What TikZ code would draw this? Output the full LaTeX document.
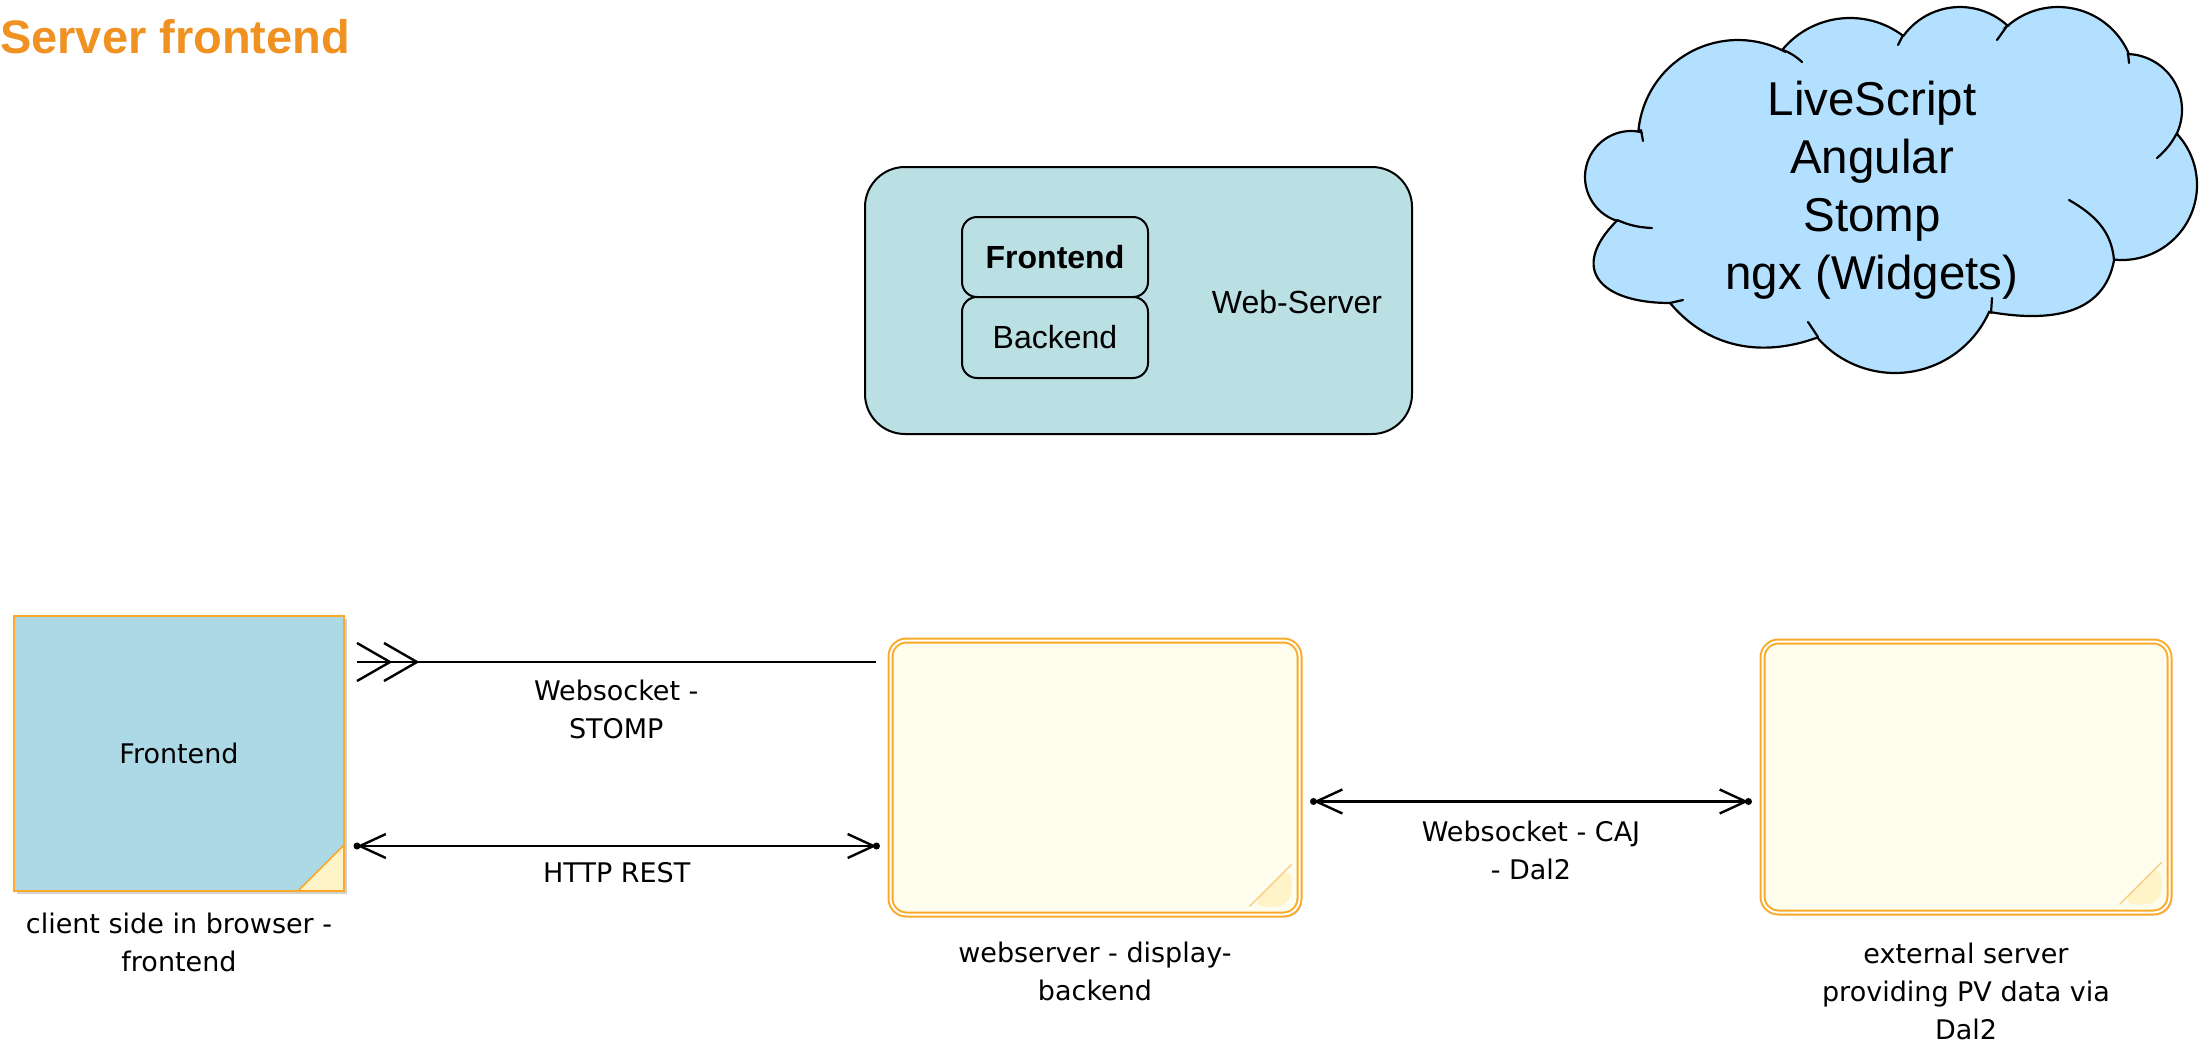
\documentclass[tikz,border=0pt]{standalone}
\usepackage{fontspec}
\setmainfont{Liberation Sans}
\newfontfamily\dvs{DejaVu Sans}
\usetikzlibrary{calc,arrows.meta,shadows}
\definecolor{wsfill}{RGB}{187,224,227}
\definecolor{cloudfill}{RGB}{179,224,255}
\definecolor{fefill}{RGB}{173,216,230}
\definecolor{borange}{RGB}{250,170,40}
\definecolor{ivory}{RGB}{255,254,238}
\definecolor{foldcol}{RGB}{255,243,200}
\definecolor{foldline}{RGB}{250,200,120}
\definecolor{titleor}{RGB}{240,146,34}
\begin{document}
\begin{tikzpicture}[x=1pt,y=1pt,
  lbl/.style={font=\dvs\fontsize{27}{38}\selectfont, align=center, inner sep=0pt, text=black},
  conn/.style={line width=2.4pt, draw=black},
  barb/.style={conn, {Straight Barb[length=26pt,width=24pt]}-{Straight Barb[length=26pt,width=24pt]}},
  tipdot/.style={fill=black},
  softshadow/.style={drop shadow={shadow xshift=2.5pt, shadow yshift=-2.5pt, fill=black, opacity=0.18}},
  note/.style={draw=borange, line width=2pt, double=white, double distance=2pt,
    fill=ivory, rounded corners=16pt, inner sep=0pt, softshadow,
    path picture={
      \fill[foldcol] ($(path picture bounding box.south east)+(-50pt,8pt)$) --
        ($(path picture bounding box.south east)+(-8pt,50pt)$) --
        ($(path picture bounding box.south east)+(-8pt,8pt)$) -- cycle;
      \draw[foldline, line width=1.2pt] ($(path picture bounding box.south east)+(-50pt,8pt)$) --
        ($(path picture bounding box.south east)+(-8pt,50pt)$);}},
  febox/.style={draw=borange, line width=2pt, fill=fefill, inner sep=0pt, softshadow,
    font=\dvs\fontsize{27}{38}\selectfont,
    path picture={
      \fill[foldcol] ($(path picture bounding box.south east)+(-46pt,0pt)$) --
        ($(path picture bounding box.south east)+(0pt,46pt)$) --
        (path picture bounding box.south east) -- cycle;
      \draw[borange, line width=1.5pt] ($(path picture bounding box.south east)+(-46pt,0pt)$) --
        ($(path picture bounding box.south east)+(0pt,46pt)$);}},
  wsbox/.style={draw=black, line width=2pt, fill=wsfill, rounded corners=40pt, inner sep=0pt},
  wsin/.style={draw=black, line width=2pt, fill=wsfill, rounded corners=15pt, inner sep=0pt,
    minimum width=186pt, font=\fontsize{32}{38}\selectfont},
  cloudline/.style={line width=2.2pt, draw=black, line cap=round}
]
\useasboundingbox (0,0) rectangle (2204,-1044);

% title
\node[anchor=base west, inner sep=0pt, text=titleor, font=\bfseries\fontsize{47}{54}\selectfont] (title) at (0,-53) {Server frontend};

% web-server group
\node[wsbox, minimum width=547pt, minimum height=267pt] (ws) at (1138.5,-300.5) {};
\node[wsin, minimum height=80pt, font=\bfseries\fontsize{32}{38}\selectfont] (wsf) at (1055,-257) {Frontend};
\node[wsin, minimum height=81pt] (wsb) at (1055,-337.5) {Backend};
\node[inner sep=0pt, font=\fontsize{32}{38}\selectfont] (wst) at (1297,-302) {Web-Server};

% cloud
\filldraw[cloudline, fill=cloudfill]
 ($(1631,-177)+(252:46)$) arc[start angle=252,end angle=78,radius=46]
 -- ($(1738,-140)+(174:100)$) arc[start angle=174,end angle=63,radius=100]
 -- ($(1850,-106)+(140:88)$) arc[start angle=140,end angle=53,radius=88]
 -- ($(1960,-77)+(144:70)$) arc[start angle=144,end angle=47,radius=70]
 -- ($(2058,-84)+(131:77)$) arc[start angle=131,end angle=24,radius=77]
 -- ($(2126,-110)+(88:56)$) arc[start angle=88,end angle=-24,radius=56]
 -- ($(2122,-185)+(42:75)$) arc[start angle=42,end angle=-96,radius=75]
 to[out=-100,in=-10,looseness=1.1] ($(1895,-270)+(-24:103)$)
 arc[start angle=-24,end angle=-139,radius=103]
 to[out=200,in=-50,looseness=1] (1670,-303)
 to[out=180,in=225,looseness=1.8] ($(1631,-177)+(252:46)$) -- cycle;
\draw[cloudline] (1641,-130) -- (1643,-141);
\draw[cloudline] (1783,-50) to[bend left=10] (1802,-62);
\draw[cloudline] (1903,-35) -- (1898,-45);
\draw[cloudline] (2007,-26) -- (1997,-40);
\draw[cloudline] (2128,-53) -- (2129,-63);
\draw[cloudline] (2177,-133) to[bend left=10] (2157,-158);
\draw[cloudline] (2114,-260) to[out=95,in=-30] (2069,-200);
\draw[cloudline] (1991,-313) -- (1992,-298);
\draw[cloudline] (1818,-337) -- (1808,-322);
\draw[cloudline] (1670,-303) -- (1683,-300);
\draw[cloudline] (1617,-220) to[bend right=10] (1652,-228);
\node[inner sep=0pt, align=center, font=\fontsize{47.5}{58}\selectfont] (cloudtext) at (1872,-190)
  {LiveScript\\Angular\\Stomp\\ngx (Widgets)};

% lower boxes
\node[febox, minimum width=330pt, minimum height=275pt] (fe) at (179,-753.5) {Frontend};
\node[note, minimum width=409pt, minimum height=274pt] (be) at (1095,-777.5) {};
\node[note, minimum width=407pt, minimum height=271pt] (ext) at (1966,-777) {};

\node[lbl] (fel) at ($(fe.south)+(0,-50)$) {client side in browser -\\frontend};
\node[lbl] (bel) at ($(be.south)+(0,-56)$) {webserver - display-\\backend};
\node[lbl] (extl) at ($(ext.south)+(0,-78)$) {external server\\providing PV data via\\Dal2};

% connectors
\coordinate (ws1) at ($(fe.north east)+(12,-47)$);
\coordinate (ws2) at ($(be.west |- ws1)+(-14,0)$);
\coordinate (hr1) at ($(fe.north east)+(12,-231)$);
\coordinate (hr2) at ($(be.west |- hr1)+(-13,0)$);
\coordinate (cj1) at ($(be.north east)+(13,-162)$);
\coordinate (cj2) at ($(ext.west |- cj1)+(-13,0)$);

\draw[conn] (ws1) -- (ws2) node[lbl, midway, yshift=-47pt] (wsl) {Websocket -\\STOMP};
\draw[conn, line join=miter] ($(ws1)+(0,19)$) -- ($(ws1)+(33,0)$) -- ($(ws1)+(0,-19)$);
\draw[conn, line join=miter] ($(ws1)+(27,19)$) -- ($(ws1)+(60,0)$) -- ($(ws1)+(27,-19)$);

\draw[barb] (hr1) -- (hr2) node[lbl, midway, yshift=-27pt] (hrl) {HTTP REST};
\fill[tipdot] (hr1) circle (3.5);
\fill[tipdot] (hr2) circle (3.5);

\draw[barb] (cj1) -- (cj2) node[lbl, midway, yshift=-49pt] (cjl) {Websocket - CAJ\\- Dal2};
\fill[tipdot] (cj1) circle (3.5);
\fill[tipdot] (cj2) circle (3.5);
\end{tikzpicture}
\end{document}
